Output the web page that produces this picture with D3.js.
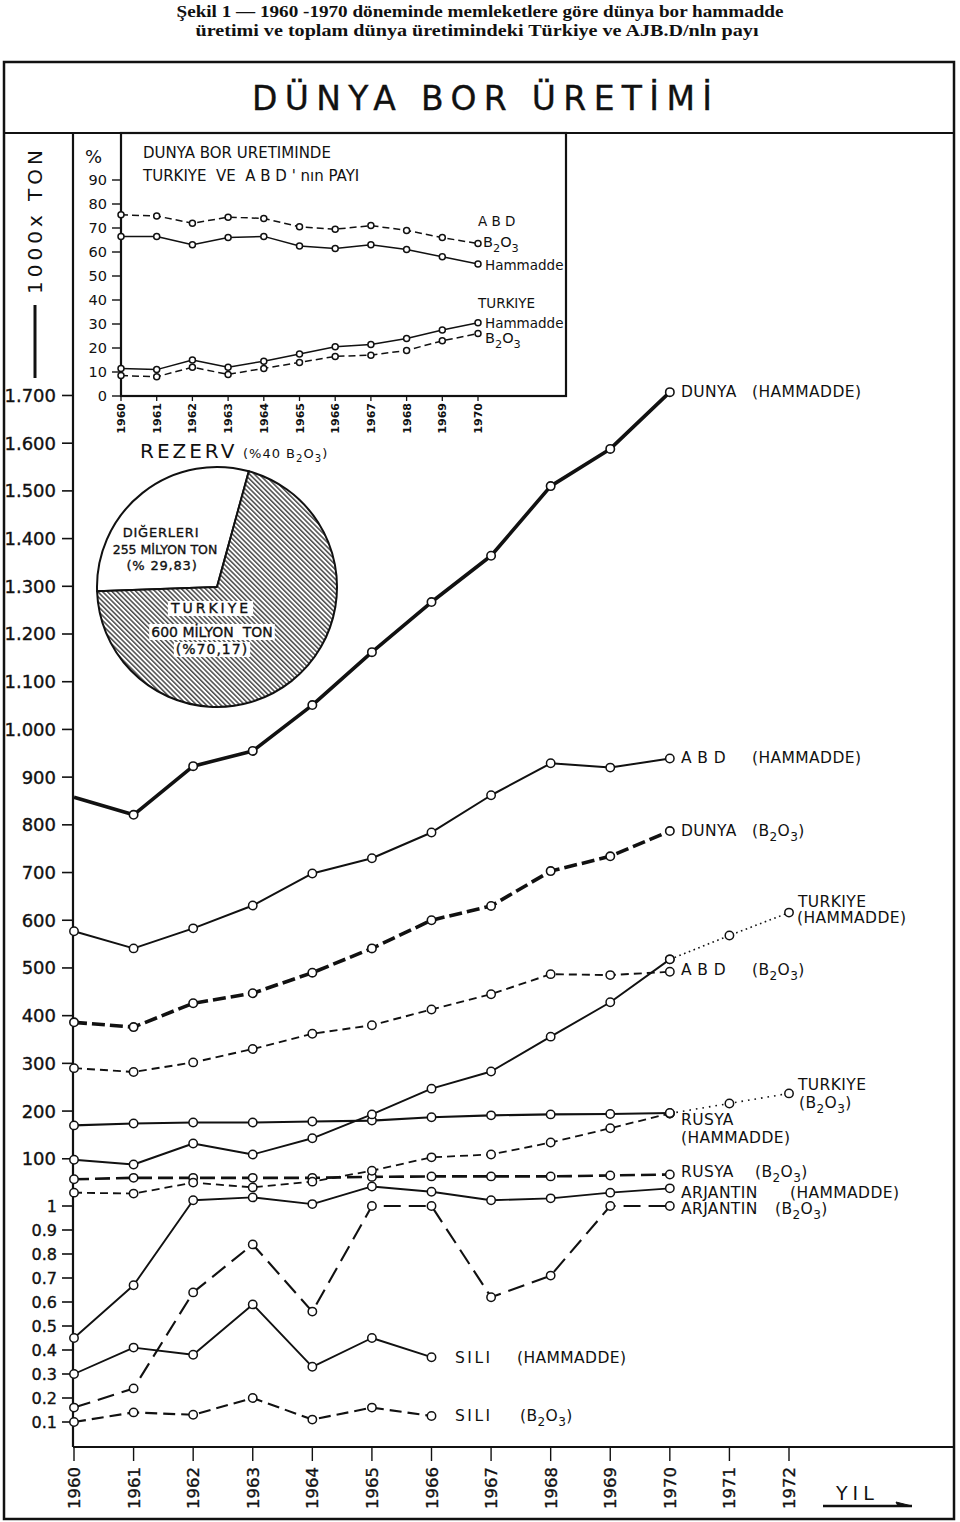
<!DOCTYPE html>
<html><head><meta charset="utf-8">
<script src="https://cdn.jsdelivr.net/npm/d3@7"></script>
<style>
body{margin:0;background:#fff}
svg{display:block}
text{font-family:"DejaVu Sans",sans-serif;fill:#111;white-space:pre}
.heavy{stroke:#111;stroke-width:0.35px}
</style></head><body>
<svg id="c" width="960" height="1522"></svg>
<script>
// ---------------- DATA ----------------
const years = [1960,1961,1962,1963,1964,1965,1966,1967,1968,1969,1970];
const extYears = [1970,1971,1972];
const axisYears = [1960,1961,1962,1963,1964,1965,1966,1967,1968,1969,1970,1971,1972];
const siliYears = [1960,1961,1962,1963,1964,1965,1966];

// main chart (1000 ton)
const dunyaHammadde = [858, 821, 923, 955, 1051, 1162, 1267, 1364, 1510, 1588, 1707];
const abdHammadde   = [577, 541, 583, 631, 698, 730, 784, 862, 929, 920, 939];
const dunyaB2O3     = [386, 376, 426, 447, 490, 541, 600, 630, 703, 734, 787];
const abdB2O3       = [290, 282, 302, 330, 362, 380, 413, 445, 487, 485, 492];
const turkiyeHammadde = [98, 88, 132, 109, 143, 193, 247, 283, 356, 428, 518];
const turkiyeHammaddeExt = [518, 568, 616];
const rusyaHammadde = [170, 174, 176, 176, 178, 180, 187, 191, 193, 194, 196];
const turkiyeB2O3   = [29, 27, 50, 40, 52, 75, 103, 109, 134, 164, 195];
const turkiyeB2O3Ext = [195, 216, 237];
const rusyaB2O3     = [57, 60, 60, 60, 60, 62, 63, 63, 63, 65, 67];
const arjantinHammadde = [0.45, 0.67, 13, 19, 5, 42, 31, 13, 17, 29, 38];
const arjantinB2O3  = [0.16, 0.24, 0.64, 0.84, 0.56, 1.0, 1.0, 0.62, 0.71, 1.0, 1.0];
const siliHammadde  = [0.30, 0.41, 0.38, 0.59, 0.33, 0.45, 0.37];
const siliB2O3      = [0.10, 0.14, 0.13, 0.20, 0.11, 0.16, 0.125];

const upperTicks = [1700,1600,1500,1400,1300,1200,1100,1000,900,800,700,600,500,400,300,200,100];
const upperTickLabels = ["1.700","1.600","1.500","1.400","1.300","1.200","1.100","1.000","900","800","700","600","500","400","300","200","100"];
const lowerTicks = [1,0.9,0.8,0.7,0.6,0.5,0.4,0.3,0.2,0.1];
const lowerTickLabels = ["1","0.9","0.8","0.7","0.6","0.5","0.4","0.3","0.2","0.1"];

// inset (%)
const insetAbdB2O3 = [75.5, 75, 72, 74.5, 74, 70.5, 69.5, 71, 69, 66, 63.5];
const insetAbdHammadde = [66.5, 66.5, 63, 66, 66.5, 62.5, 61.5, 63, 61, 58, 55];
const insetTurkiyeHammadde = [11.5, 11, 15, 12, 14.5, 17.5, 20.5, 21.5, 24, 27.5, 30.5];
const insetTurkiyeB2O3 = [8.5, 8, 12, 9, 11.5, 14, 16.5, 17, 19, 23, 26];
const insetTicks = [0,10,20,30,40,50,60,70,80,90];

// pie (reserves)
const pieLabels = ["DIĞERLERI","TURKIYE"];
const pieValues = [29.83, 70.17];

// ---------------- DRAW ----------------
const svg = d3.select("#c");
const ink = "#111";
const defs = svg.append("defs");
const pat = defs.append("pattern").attr("id","hatch").attr("patternUnits","userSpaceOnUse")
  .attr("width",3.4).attr("height",3.4).attr("patternTransform","rotate(-45)");
pat.append("rect").attr("width",3.4).attr("height",3.4).attr("fill","#fff");
pat.append("line").attr("x1",0.8).attr("y1",0).attr("x2",0.8).attr("y2",3.4).attr("stroke",ink).attr("stroke-width",1.15);

function rich(sel, str, fs){
  const parts = str.split(/(_\d)/);
  let sub = false;
  parts.forEach(p=>{
    if(!p) return;
    if(p[0]==="_"){ sel.append("tspan").attr("dy",fs*0.32).attr("font-size",fs*0.78).text(p.slice(1)); sub=true; }
    else { const t = sel.append("tspan").text(p); if(sub){ t.attr("dy",-fs*0.32); sub=false; } }
  });
  return sel;
}
function label(x, y, str, fs, opts={}){
  const t = svg.append("text").attr("x",x).attr("y",y).attr("font-size",fs)
    .attr("text-anchor",opts.anchor||"start")
    .attr("letter-spacing",opts.ls||0)
    .attr("font-weight",opts.weight||"normal");
  if(opts.cls) t.attr("class",opts.cls);
  rich(t,str,fs);
  return t;
}

// caption
svg.append("text").attr("x",480).attr("y",17).attr("text-anchor","middle").attr("font-size",17)
  .attr("font-weight","bold").style("font-family","'Liberation Serif',serif")
  .attr("textLength",607).attr("lengthAdjust","spacingAndGlyphs")
  .text("Şekil 1 — 1960 -1970 döneminde memleketlere göre dünya bor hammadde");
svg.append("text").attr("x",477).attr("y",36).attr("text-anchor","middle").attr("font-size",17)
  .attr("font-weight","bold").style("font-family","'Liberation Serif',serif")
  .attr("textLength",563).attr("lengthAdjust","spacingAndGlyphs")
  .text("üretimi ve toplam dünya üretimindeki Türkiye ve AJB.D/nln payı");

// frame
svg.append("rect").attr("x",4).attr("y",62).attr("width",950).attr("height",1457)
  .attr("fill","none").attr("stroke",ink).attr("stroke-width",2.5);
svg.append("line").attr("x1",4).attr("x2",954).attr("y1",133).attr("y2",133).attr("stroke",ink).attr("stroke-width",2.2);
svg.append("text").attr("x",482).attr("y",110).attr("text-anchor","middle").attr("font-size",33)
  .attr("class","heavy").attr("textLength",460).attr("lengthAdjust","spacing").text("DÜNYA BOR ÜRETİMİ");

// main scales
const x = d3.scaleLinear().domain([1960,1972]).range([74,789]);
const y = d3.scaleLinear().domain([0,1,1701]).range([1446,1206,395]);

// axes lines
svg.append("line").attr("x1",73).attr("x2",73).attr("y1",133).attr("y2",1447).attr("stroke",ink).attr("stroke-width",2.2);
svg.append("line").attr("x1",73).attr("x2",954).attr("y1",1447).attr("y2",1447).attr("stroke",ink).attr("stroke-width",2.2);

// y ticks
const yt = svg.append("g");
upperTicks.forEach((v,i)=>{
  yt.append("line").attr("x1",62).attr("x2",73).attr("y1",y(v)).attr("y2",y(v)).attr("stroke",ink).attr("stroke-width",1.6);
  yt.append("text").attr("class","heavy").attr("x",56).attr("y",y(v)).attr("dy","0.36em").attr("text-anchor","end").attr("font-size",18).text(upperTickLabels[i]);
});
lowerTicks.forEach((v,i)=>{
  yt.append("line").attr("x1",62).attr("x2",73).attr("y1",y(v)).attr("y2",y(v)).attr("stroke",ink).attr("stroke-width",1.6);
  yt.append("text").attr("class","heavy").attr("x",57).attr("y",y(v)).attr("dy","0.36em").attr("text-anchor","end").attr("font-size",16).text(lowerTickLabels[i]);
});

// x ticks
axisYears.forEach(yr=>{
  svg.append("line").attr("x1",x(yr)).attr("x2",x(yr)).attr("y1",1447).attr("y2",1461).attr("stroke",ink).attr("stroke-width",1.4);
  svg.append("text").attr("class","heavy").attr("transform",`translate(${x(yr)+6},1467) rotate(-90)`).attr("text-anchor","end")
    .attr("font-size",16.5).text(yr);
});
svg.append("text").attr("x",836).attr("y",1500).attr("font-size",19).attr("letter-spacing",5).text("YIL");
svg.append("path").attr("d","M823,1506 H912").attr("stroke",ink).attr("stroke-width",2.5);
svg.append("path").attr("d","M912,1506 L896,1502 L898,1506 Z").attr("fill",ink).attr("stroke",ink).attr("stroke-width",1);

// left unit label
svg.append("text").attr("transform","translate(42,220) rotate(-90)").attr("text-anchor","middle")
  .attr("font-size",20).attr("letter-spacing",4).text("1000x TON");
svg.append("line").attr("x1",35).attr("x2",35).attr("y1",305).attr("y2",378).attr("stroke",ink).attr("stroke-width",3);

// series
const lineGen = (xs, ys, yrs)=> d3.line().x((d,i)=>xs(yrs[i])).y(d=>ys(d));
function series(vals, yrs, st, xs=x, ys=y, r=4.2){
  svg.append("path").attr("d", lineGen(xs,ys,yrs)(vals)).attr("fill","none").attr("stroke",ink)
    .attr("stroke-width",st.w).attr("stroke-dasharray",st.dash||null).attr("stroke-linejoin","round");
  vals.forEach((v,i)=>{
    if(st.skipFirst && i===0) return;
    svg.append("circle").attr("cx",xs(yrs[i])).attr("cy",ys(v)).attr("r",r)
      .attr("fill","#fff").attr("stroke",ink).attr("stroke-width",st.mw||1.5);
  });
}
const styles = {
  dunyaHam:{w:3.6, skipFirst:true, mw:1.6},
  abdHam:{w:2},
  dunyaB2O3:{w:3.6, dash:"13,5", mw:1.6},
  abdB2O3:{w:1.9, dash:"8,5"},
  turHam:{w:1.9},
  turHamExt:{w:1.6, dash:"1.6,3.5"},
  rusHam:{w:2.1},
  turB2O3:{w:1.8, dash:"8,5"},
  turB2O3Ext:{w:1.6, dash:"1.6,5"},
  rusB2O3:{w:2.6, dash:"15,6"},
  arjHam:{w:1.9},
  arjB2O3:{w:2.1, dash:"17,8"},
  siliHam:{w:1.9},
  siliB2O3:{w:2.1, dash:"12,6"}
};
series(turkiyeHammaddeExt, extYears, styles.turHamExt);
series(turkiyeB2O3Ext, extYears, styles.turB2O3Ext);
series(siliB2O3, siliYears, styles.siliB2O3);
series(siliHammadde, siliYears, styles.siliHam);
series(arjantinB2O3, years, styles.arjB2O3);
series(arjantinHammadde, years, styles.arjHam);
series(rusyaB2O3, years, styles.rusB2O3);
series(turkiyeB2O3, years, styles.turB2O3);
series(rusyaHammadde, years, styles.rusHam);
series(turkiyeHammadde, years, styles.turHam);
series(abdB2O3, years, styles.abdB2O3);
series(dunyaB2O3, years, styles.dunyaB2O3);
series(abdHammadde, years, styles.abdHam);
series(dunyaHammadde, years, styles.dunyaHam);

// right-hand labels
const F = 15.5;
const rl = [
  [681,397,"DUNYA"],[752,397,"(HAMMADDE)"],
  [681,763,"A B D"],[752,763,"(HAMMADDE)"],
  [681,836,"DUNYA"],[752,836,"(B_2O_3)"],
  [798,907,"TURKIYE"],[797,923,"(HAMMADDE)"],
  [681,975,"A B D"],[752,975,"(B_2O_3)"],
  [798,1090,"TURKIYE"],[799,1108,"(B_2O_3)"],
  [681,1125,"RUSYA"],[681,1143,"(HAMMADDE)"],
  [681,1177,"RUSYA"],[755,1177,"(B_2O_3)"],
  [681,1198,"ARJANTIN"],[790,1198,"(HAMMADDE)"],
  [681,1214,"ARJANTIN"],[775,1214,"(B_2O_3)"],
  [455,1363,"SILI"],[517,1363,"(HAMMADDE)"],
  [455,1421,"SILI"],[520,1421,"(B_2O_3)"]
];
rl.forEach(d=>label(d[0],d[1],d[2],F,{ls:d[2]==="SILI"?2.5:0.4}));

// ---------------- INSET ----------------
const ix = d3.scaleLinear().domain([1960,1970]).range([121,478]);
const iy = d3.scaleLinear().domain([0,90]).range([396,180]);
svg.append("rect").attr("x",121).attr("y",133).attr("width",445).attr("height",263)
  .attr("fill","#fff").attr("stroke",ink).attr("stroke-width",2.2);
insetTicks.forEach(v=>{
  svg.append("line").attr("x1",112).attr("x2",121).attr("y1",iy(v)).attr("y2",iy(v)).attr("stroke",ink).attr("stroke-width",1.4);
  svg.append("text").attr("x",107).attr("y",iy(v)).attr("dy","0.36em").attr("text-anchor","end").attr("font-size",14.5).text(v);
});
years.forEach(yr=>{
  svg.append("line").attr("x1",ix(yr)).attr("x2",ix(yr)).attr("y1",396).attr("y2",401).attr("stroke",ink).attr("stroke-width",1.3);
  svg.append("text").attr("transform",`translate(${ix(yr)+4},403) rotate(-90)`).attr("text-anchor","end")
    .attr("font-size",11).attr("font-weight","bold").text(yr);
});
svg.append("text").attr("x",85).attr("y",163).attr("font-size",18).text("%");
label(143,158,"DUNYA BOR URETIMINDE",15);
label(143,181,"TURKIYE  VE  A B D ' nın PAYI",15);
const insSt = {w:1.5};
const insDash = {w:1.5, dash:"7,4"};
series(insetAbdB2O3, years, insDash, ix, iy, 3);
series(insetAbdHammadde, years, insSt, ix, iy, 3);
series(insetTurkiyeHammadde, years, insSt, ix, iy, 3);
series(insetTurkiyeB2O3, years, insDash, ix, iy, 3);
label(478,226,"A B D",13.5);
label(483,247,"B_2O_3",14.5);
label(485,270,"Hammadde",13.5);
label(478,308,"TURKIYE",13.5);
label(485,328,"Hammadde",13.5);
label(485,343,"B_2O_3",14.5);

// ---------------- PIE ----------------
const pc = [217,587], pr = 120;
label(140,458,"REZERV",20,{ls:3});
label(243,458,"(%40 B_2O_3)",13,{ls:1});
const pie = d3.pie().sort(null).value(d=>d)
  .startAngle(-Math.PI/2 - 0.035).endAngle(3*Math.PI/2 - 0.035);
const arcs = pie(pieValues);
const arc = d3.arc().innerRadius(0).outerRadius(pr);
const pg = svg.append("g").attr("transform",`translate(${pc[0]},${pc[1]})`);
pg.selectAll("path").data(arcs).join("path").attr("d",arc)
  .attr("fill",(d,i)=> i===0 ? "#fff" : "url(#hatch)")
  .attr("stroke",ink).attr("stroke-width",2).attr("stroke-linejoin","round");

function boxed(x0,y0,str,fs,ls){
  const t = label(x0,y0,str,fs,{ls:ls,anchor:"middle",cls:"heavy"});
  const b = t.node().getBBox();
  svg.insert("rect", () => t.node()).attr("x",b.x-2).attr("y",b.y+1).attr("width",b.width+4).attr("height",b.height-1).attr("fill","#fff");
}
label(161,537,pieLabels[0],13,{ls:0.8,anchor:"middle",cls:"heavy"});
label(165,554,"255 MİLYON TON",12.5,{anchor:"middle",cls:"heavy"});
label(162,570,"(% 29,83)",13,{ls:0.8,anchor:"middle",cls:"heavy"});
boxed(211,613,pieLabels[1],14,3);
boxed(212,637,"600 MİLYON  TON",14,0);
boxed(212,654,"(%70,17)",14,1);
</script>
</body></html>
